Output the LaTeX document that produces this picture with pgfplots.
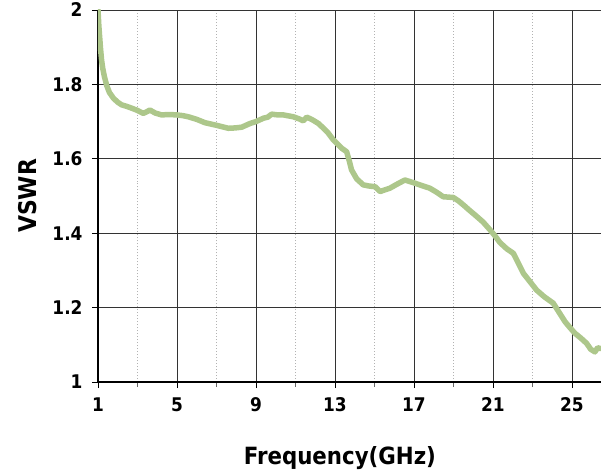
\documentclass[border=0pt]{standalone}
\usepackage{pgfplots}
\pgfplotsset{compat=1.18}
\usepackage{fontspec}
\setmainfont{DejaVu Sans Condensed Bold}[BoldFont={DejaVu Sans Condensed Bold}]
\usetikzlibrary{calc}
\definecolor{curve}{RGB}{173,199,139}
\begin{document}
\begin{tikzpicture}
\begin{axis}[
  scale only axis,
  width=503bp, height=372bp,
  xmin=1, xmax=26.47, ymin=1, ymax=2,
  axis x line*=bottom, axis y line*=left,
  axis line style={black, line width=1.2bp, -},
  xtick={1,5,9,13,17,21,25},
  minor xtick={3,7,11,15,19,23},
  ytick={1,1.2,1.4,1.6,1.8,2},
  yticklabels={1,1.2,1.4,1.6,1.8,2},
  xticklabels={1,5,9,13,17,21,25},
  tick align=outside,
  major tick length=6bp, minor tick length=5bp,
  tick style={black, line width=0.9bp},
  minor tick style={black!60, line width=0.9bp},
  grid=both,
  major grid style={black!80, line width=0.9bp},
  minor x grid style={black!30, line width=1bp, dotted},
  /pgf/number format/assume math mode=true,
  tick label style={font=\fontsize{18.9}{20}\selectfont},
  xticklabel style={yshift=-6bp},
  yticklabel style={xshift=-6bp},
  xlabel={Frequency(GHz)},
  ylabel={VSWR},
  xlabel style={font=\fontsize{23.8}{26}\selectfont, at={(axis description cs:0.481,-0.2231)}, anchor=base},
  ylabel style={font=\fontsize{24.5}{26}\selectfont, at={(axis description cs:-0.1213,0.5)}, anchor=base},
]
\addplot[curve, line width=5.5bp, line join=round, line cap=round] coordinates {
(1.00,2.000) (1.04,1.960) (1.08,1.930) (1.13,1.895) (1.18,1.866) (1.24,1.843)
(1.32,1.822) (1.44,1.797) (1.58,1.778) (1.78,1.763) (2.00,1.752)
(2.20,1.745) (2.45,1.741) (2.71,1.736) (3.00,1.730) (3.29,1.722) (3.45,1.726) (3.63,1.731)
(3.90,1.723) (4.22,1.718) (4.60,1.719) (4.98,1.718) (5.30,1.716) (5.57,1.713) (6.00,1.706) (6.42,1.697) (7.00,1.690)
(7.60,1.682) (7.95,1.683) (8.28,1.685) (8.70,1.695) (9.00,1.700) (9.37,1.709) (9.60,1.712)
(9.79,1.720) (10.10,1.718) (10.38,1.718) (10.89,1.713) (11.20,1.707) (11.39,1.702) (11.57,1.712)
(11.85,1.705) (12.16,1.695) (12.40,1.683) (12.66,1.669) (12.90,1.652) (13.09,1.642) (13.35,1.628) (13.59,1.619) (13.72,1.595) (13.84,1.570)
(14.10,1.546) (14.43,1.530) (14.70,1.527) (15.03,1.525) (15.28,1.512) (15.50,1.516) (15.78,1.521) (16.15,1.532) (16.54,1.543)
(16.96,1.536) (17.40,1.528) (17.80,1.521) (18.15,1.510) (18.48,1.498) (18.99,1.496) (19.25,1.487) (19.50,1.476)
(19.80,1.462) (20.09,1.449) (20.50,1.430) (20.85,1.409) (21.10,1.393) (21.35,1.375) (21.70,1.358) (22.03,1.346) (22.30,1.318) (22.54,1.292)
(22.90,1.268) (23.21,1.247) (23.60,1.229) (24.05,1.212) (24.35,1.187) (24.65,1.162) (24.90,1.146) (25.15,1.131) (25.45,1.118) (25.74,1.104)
(25.95,1.088) (26.16,1.081) (26.30,1.092) (26.43,1.090)
};
\end{axis}
\pgfresetboundingbox
\path[use as bounding box] ($(current axis.south west)+(-98bp,-91bp)$) rectangle ($(current axis.north east)+(0bp,10bp)$);
\end{tikzpicture}
\end{document}
